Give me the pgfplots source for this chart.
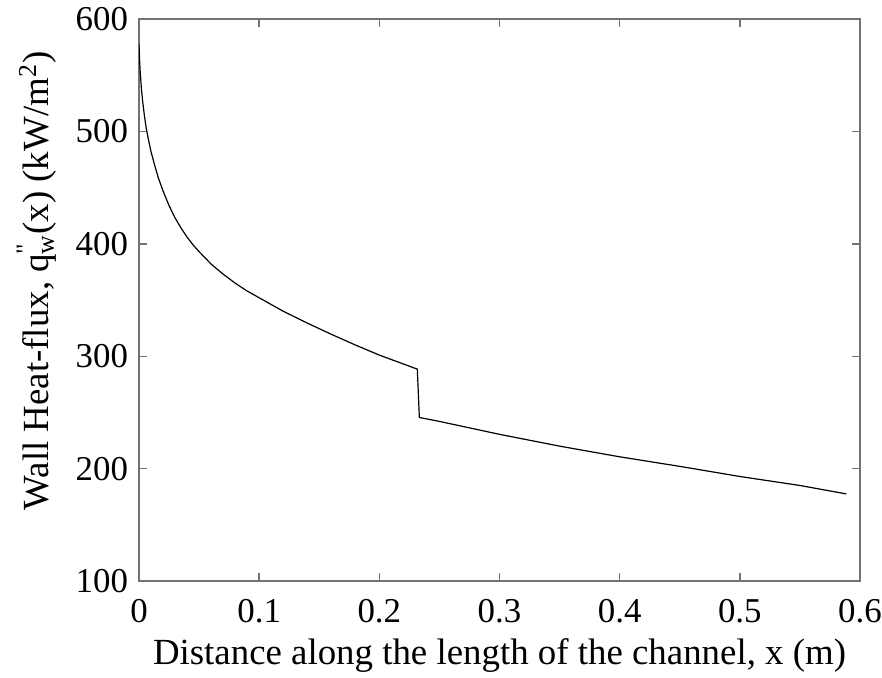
\documentclass[border=0pt]{standalone}
\usepackage{fontspec}
\setmainfont{Liberation Serif}
\usepackage{pgfplots}
\pgfplotsset{compat=1.18}
\begin{document}
\fontsize{16}{19}\selectfont
\begin{tikzpicture}
\begin{axis}[
  name=ax,
  scale only axis,
  width=360.5bp, height=281bp,
  xmin=0, xmax=0.6, ymin=100, ymax=600,
  xtick={0,0.1,0.2,0.3,0.4,0.5,0.6},
  ytick={100,200,300,400,500,600},
  xticklabels={0,0.1,0.2,0.3,0.4,0.5,0.6},
  tick align=inside,
  major tick length=4bp,
  axis line style={draw=black!55, line width=0.7bp},
  tick style={draw=black!55, line width=0.7bp},
  /pgf/number format/assume math mode=true,
  ticklabel style={font=\fontsize{17.5}{20}\selectfont},
  xticklabel style={yshift=-3.5bp},
  label style={font=\fontsize{18.5}{21}\selectfont},
  xlabel={Distance along the length of the channel, x (m)},
  ylabel={Wall Heat-flux, q\rlap{\raisebox{0.15ex}{\textsuperscript{\textquotedbl}}}\textsubscript{w}(x) (kW/m\textsuperscript{2})},
  xlabel style={at={(rel axis cs:0.5,0)}, anchor=north, yshift=-23.5bp},
  ylabel style={at={(rel axis cs:-0.142,0.534)}, anchor=center},
]
\addplot[black, line width=0.6bp] coordinates {
(0,578) (0.0005,563) (0.001,553) (0.002,538) (0.003,527) (0.0045,514)
(0.006,503) (0.008,492) (0.010,482) (0.013,470) (0.016,459) (0.020,447)
(0.025,434) (0.030,423) (0.035,414) (0.040,406) (0.045,399) (0.050,393)
(0.060,382) (0.070,373) (0.080,365) (0.090,358) (0.100,352) (0.120,340)
(0.140,329.5) (0.160,319.5) (0.180,310) (0.200,301) (0.2316,288.5)
(0.2333,245.5) (0.25,242) (0.3,230.5) (0.35,220) (0.4,210.5)
(0.45,202) (0.5,193) (0.55,185) (0.5886,177.5)
};
\end{axis}
\pgfresetboundingbox
\path[use as bounding box] ([shift={(-69.5bp,-48bp)}]ax.south west) rectangle ([shift={(11bp,9.5bp)}]ax.north east);
\end{tikzpicture}
\end{document}
